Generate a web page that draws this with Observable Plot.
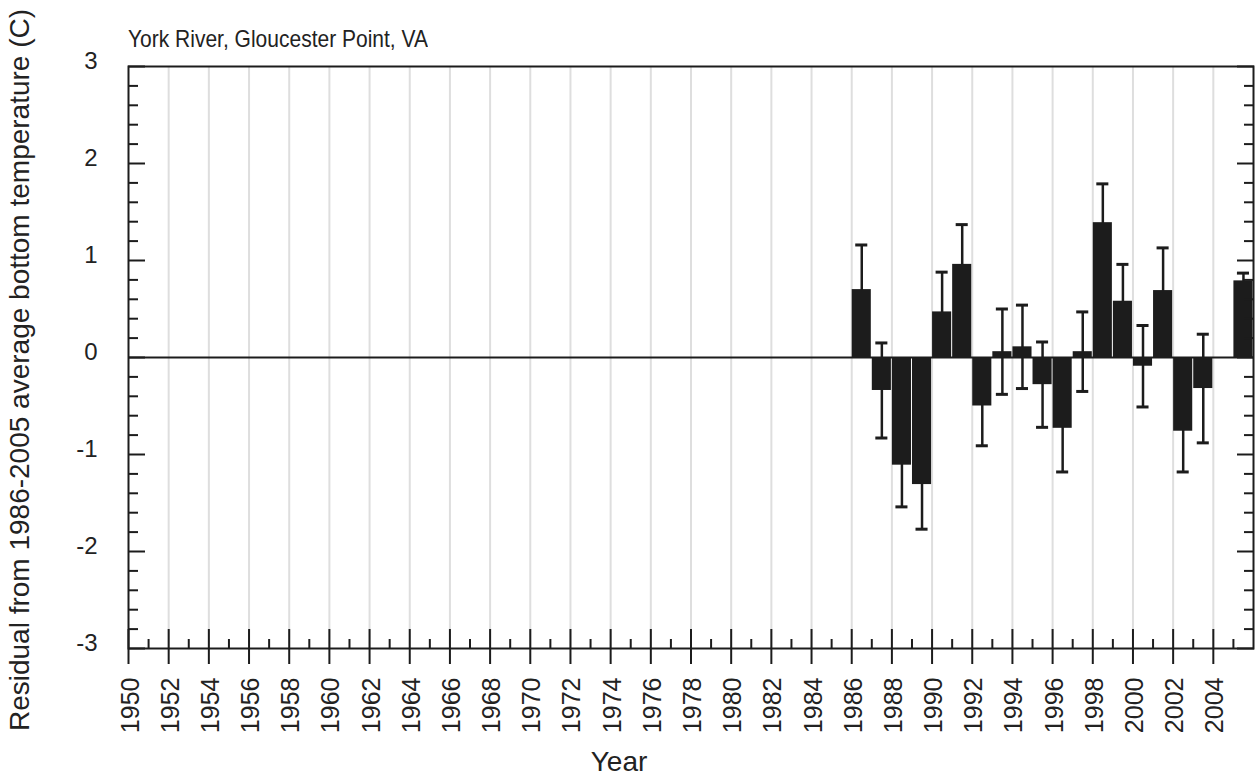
<!DOCTYPE html>
<html>
<head>
<meta charset="utf-8">
<script src="https://cdn.jsdelivr.net/npm/d3@7"></script>
<script src="https://cdn.jsdelivr.net/npm/@observablehq/plot@0.6"></script>
<style>
  html, body { margin: 0; padding: 0; background: #fff; }
  #wrap { position: relative; width: 1256px; height: 780px; font-family: "Liberation Sans", Arial, sans-serif; color: #222; }
  #title { position: absolute; left: 128px; top: 29px; font-size: 21px; line-height: 21px; white-space: nowrap; transform-origin: left bottom; transform: scaleY(1.15); }
  #ylab { position: absolute; left: 20px; top: 370px; transform: translate(-50%, -50%) rotate(-90deg); font-size: 28px; white-space: nowrap; }
  #xlab { position: absolute; left: 619px; top: 748px; transform: translateX(-50%); font-size: 28px; line-height: 28px; white-space: nowrap; }
  #chart { position: absolute; left: 0; top: 0; }
</style>
</head>
<body>
<div id="wrap">
  <div id="chart"></div>
  <div id="title">York River, Gloucester Point, VA</div>
  <div id="ylab">Residual from 1986-2005 average bottom temperature (C)</div>
  <div id="xlab">Year</div>
</div>
<script>
// Data
const years     = [1986, 1987, 1988, 1989, 1990, 1991, 1992, 1993, 1994, 1995, 1996, 1997, 1998, 1999, 2000, 2001, 2002, 2003, 2005];
const residuals = [0.70, -0.34, -1.11, -1.31, 0.47, 0.96, -0.50, 0.06, 0.11, -0.28, -0.73, 0.06, 1.39, 0.58, -0.09, 0.69, -0.76, -0.32, 0.79];
const errors    = [0.46, 0.49, 0.43, 0.46, 0.41, 0.41, 0.41, 0.44, 0.43, 0.44, 0.45, 0.41, 0.40, 0.38, 0.42, 0.44, 0.42, 0.56, 0.08];

const xMajorTicks = d3.range(1950, 2005, 2);
const xMinorTicks = d3.range(1951, 2006, 2);
const yMajorTicks = [-3, -2, -1, 0, 1, 2, 3];
const yMinorTicks = d3.range(-30, 31, 2).filter(v => v % 10 !== 0).map(v => v / 10);

const data = years.map((year, i) => ({year, v: residuals[i], e: errors[i]}));
const ink = "#1c1c1c";

const chart = Plot.plot({
  width: 1256,
  height: 780,
  marginTop: 66,
  marginBottom: 132,
  marginLeft: 128,
  marginRight: 3,
  style: {fontFamily: "Liberation Sans, Arial, sans-serif", color: "#222", background: "transparent"},
  x: {domain: [1950, 2006]},
  y: {domain: [-3, 3]},
  marks: [
    Plot.gridX(d3.range(1952, 2005, 2), {stroke: "#dedede", strokeOpacity: 1, strokeWidth: 2}),
    Plot.ruleY([0], {stroke: ink, strokeWidth: 2}),
    Plot.ruleX(data, {x: d => d.year + 0.5, y1: d => d.v - d.e, y2: d => d.v + d.e, stroke: ink, strokeWidth: 2.5}),
    Plot.ruleY(data, {y: d => d.v + d.e, x1: d => d.year + 0.2, x2: d => d.year + 0.8, stroke: ink, strokeWidth: 3}),
    Plot.ruleY(data, {y: d => d.v - d.e, x1: d => d.year + 0.2, x2: d => d.year + 0.8, stroke: ink, strokeWidth: 3}),
    Plot.rect(data, {x1: d => d.year, x2: d => d.year + 1, y1: () => 0, y2: d => d.v, fill: ink, insetLeft: 0.5, insetRight: 0.5}),
    Plot.frame({stroke: ink, strokeWidth: 2}),
    // y axis: labels
    Plot.axisY(yMajorTicks, {anchor: "left", tickSize: 0, tickPadding: 31, fontSize: 24, dy: -5, tickFormat: d => String(d), label: null}),
    // y axis inward ticks, left and right
    Plot.axisY(yMajorTicks, {anchor: "left", tickSize: -17, strokeWidth: 2, stroke: ink, tickFormat: () => "", label: null}),
    Plot.axisY(yMinorTicks, {anchor: "left", tickSize: -10, strokeWidth: 2, stroke: ink, tickFormat: () => "", label: null}),
    Plot.axisY(yMajorTicks, {anchor: "right", tickSize: -17, strokeWidth: 2, stroke: ink, tickFormat: () => "", label: null}),
    Plot.axisY(yMinorTicks, {anchor: "right", tickSize: -10, strokeWidth: 2, stroke: ink, tickFormat: () => "", label: null}),
    // x axis ticks
    Plot.axisX(xMajorTicks, {anchor: "bottom", tickSize: 16, strokeWidth: 2, stroke: ink, tickFormat: () => "", label: null}),
    Plot.axisX(xMajorTicks, {anchor: "bottom", tickSize: -19, strokeWidth: 2, stroke: ink, tickFormat: () => "", label: null}),
    Plot.axisX(xMinorTicks, {anchor: "bottom", tickSize: -9, strokeWidth: 2, stroke: ink, tickFormat: () => "", label: null}),
    // x axis labels
    Plot.axisX(xMajorTicks, {anchor: "bottom", tickSize: 0, tickPadding: 29, tickRotate: -90, textAnchor: "end", fontSize: 25, dx: 2, tickFormat: d => String(d), label: null})
  ]
});
document.getElementById("chart").appendChild(chart);
</script>
</body>
</html>
